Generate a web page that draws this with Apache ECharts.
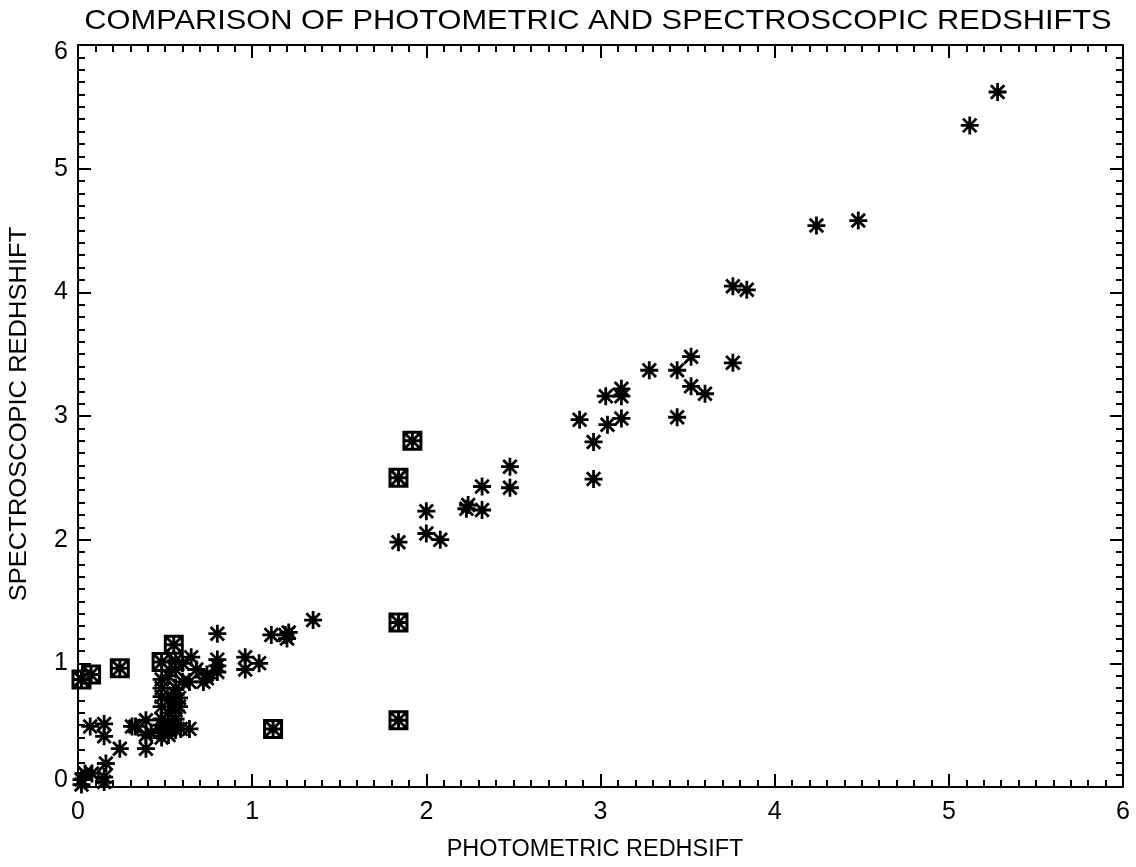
<!DOCTYPE html>
<html>
<head>
<meta charset="utf-8">
<script src="https://cdn.jsdelivr.net/npm/echarts@6/dist/echarts.min.js"></script>
<style>
html,body{margin:0;padding:0;background:#fff;}
#chart{width:1136px;height:867px;}
</style>
</head>
<body>
<div id="chart"></div>
<script>
// Star (asterisk) points: photometric x, spectroscopic y
var photoStar = [5.28,5.12,4.48,4.24,3.76,3.84,3.28,3.44,3.52,3.76,3.52,3.60,3.44,2.88,2.96,3.04,3.12,3.03,3.12,3.12,2.96,
  1.84,2.00,2.00,2.08,2.23,2.24,2.32,2.32,2.48,2.48,
  1.35,1.11,1.19,1.21,1.20,0.96,1.04,0.96,0.80,0.80,0.80,0.80,0.74,0.72,0.74,0.65,0.64,0.68,0.60,0.64,0.59,0.51,0.56,
  0.48,0.48,0.48,0.48,0.48,0.48,0.48,0.48,0.52,0.52,0.52,0.52,0.52,0.56,0.56,0.56,0.56,0.56,0.56,0.56,0.56,0.58,0.58,0.60,
  0.07,0.15,0.15,0.24,0.31,0.33,0.39,0.39,0.39,0.42,0.16,0.04,0.08,0.02,0.15,0.15,0.02];
var specStar = [5.62,5.35,4.58,4.54,4.05,4.02,3.37,3.37,3.48,3.43,3.24,3.18,2.99,2.97,2.79,2.93,2.98,3.16,3.16,3.22,2.49,
  1.98,2.23,2.05,2.00,2.25,2.28,2.24,2.43,2.42,2.59,
  1.35,1.23,1.23,1.25,1.20,1.05,1.00,0.95,1.24,1.03,0.98,0.93,0.91,0.85,0.88,1.05,0.85,0.95,1.00,0.47,0.47,0.46,0.46,
  0.40,0.45,0.50,0.55,0.65,0.73,0.80,0.87,0.42,0.52,0.60,0.70,0.90,0.50,0.55,0.62,0.68,0.75,0.80,0.95,1.02,0.65,0.72,0.85,
  0.49,0.51,0.41,0.31,0.49,0.49,0.54,0.42,0.31,0.44,0.19,0.11,0.11,0.06,0.08,0.04,0.02];
// Boxed points
var photoBox = [0.02,0.075,0.24,0.48,0.55,1.12,1.84,1.84,1.84,1.92];
var specBox  = [0.87,0.91,0.96,1.01,1.15,0.47,0.54,1.33,2.50,2.80];
// Axis tick values
var ticks = [0,1,2,3,4,5,6];
// Texts
var titleText = 'COMPARISON OF PHOTOMETRIC AND SPECTROSCOPIC REDSHIFTS';
var xName = 'PHOTOMETRIC REDHSIFT';
var yName = 'SPECTROSCOPIC REDHSHIFT';

var FONT = 'Liberation Sans';
function pairs(xs, ys){ return xs.map(function(x,i){return [x, ys[i]];}); }

var starPath = 'path://M0,-10L0,10M-10,0L10,0M-7.5,-7.5L7.5,7.5M-7.5,7.5L7.5,-7.5';
var boxPath = 'path://M-10,-10L10,-10L10,10L-10,10ZM0,-10L0,10M-10,0L10,0M-10,-10L10,10M-10,10L10,-10';

function axisCommon(pos, showLabel){
  return {
    type:'value', min:0, max:6, interval:1, position:pos,
    axisLine:{show:true, onZero:false, lineStyle:{color:'#000', width:2}},
    axisTick:{show:true, inside:true, length:13, lineStyle:{color:'#000', width:2}},
    minorTick:{show:true, splitNumber:10, length:7, lineStyle:{color:'#000', width:2}},
    splitLine:{show:false},
    axisLabel:{show:showLabel, color:'#000', fontFamily:FONT, fontSize:25,
      formatter:function(v){return ticks.indexOf(v)>=0 ? String(v) : '';}}
  };
}

var xB = axisCommon('bottom', true);
xB.axisLabel.margin = 13;
var xT = axisCommon('top', false);
var yL = axisCommon('left', true);
yL.axisLabel.margin = 10;
yL.axisLabel.formatter = function(v){
  if (ticks.indexOf(v) < 0) return '';
  if (v === ticks[0]) return '{lo|' + v + '}';
  if (v === ticks[ticks.length-1]) return '{hi|' + v + '}';
  return String(v);
};
yL.axisLabel.rich = {
  lo:{fontFamily:FONT, fontSize:25, color:'#000', padding:[0,0,14,0]},
  hi:{fontFamily:FONT, fontSize:25, color:'#000', padding:[14,0,0,0]}
};
var yR = axisCommon('right', false);

function txt(t, x, y, size, sx, rot){
  return {type:'text', x:x, y:y, rotation:rot||0, scaleX:sx, scaleY:1, silent:true,
    style:{text:t, fill:'#000', font:'normal ' + size + 'px "' + FONT + '"', align:'center', verticalAlign:'middle'}};
}

var chart = echarts.init(document.getElementById('chart'), null, {renderer:'canvas'});
chart.setOption({
  animation:false,
  backgroundColor:'#fff',
  grid:{left:78, right:13, top:45, bottom:80, containLabel:false},
  xAxis:[xB, xT],
  yAxis:[yL, yR],
  graphic:[
    txt(titleText, 598, 21, 28, 1.10, 0),
    txt(xName, 595, 850, 23, 1.02, 0),
    txt(yName, 20, 414, 23, 1.11, Math.PI/2)
  ],
  series:[
    {type:'scatter', xAxisIndex:0, yAxisIndex:0, data:pairs(photoStar, specStar),
     symbol:starPath, symbolSize:18,
     itemStyle:{color:'rgba(0,0,0,0)', borderColor:'#000', borderWidth:2.8, opacity:1}},
    {type:'scatter', xAxisIndex:0, yAxisIndex:0, data:pairs(photoBox, specBox),
     symbol:boxPath, symbolSize:17,
     itemStyle:{color:'rgba(0,0,0,0)', borderColor:'#000', borderWidth:3, opacity:1}}
  ]
});
</script>
</body>
</html>
